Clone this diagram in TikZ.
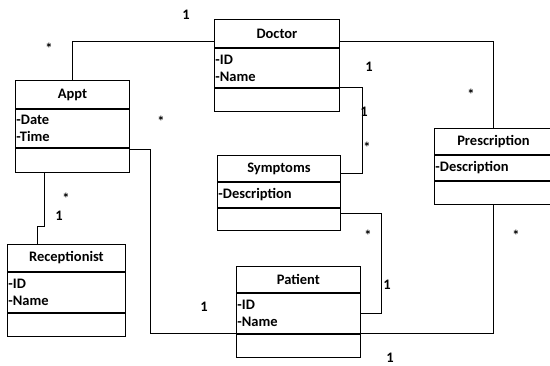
\documentclass[tikz,border=0pt]{standalone}
\usepackage{fontspec}
\setmainfont{Carlito}
\newcommand\umlbox[9]{%
  \node[sec, minimum width=#4pt, minimum height=#5pt] (#1H) at (#2,#3) {#8};
  \node[sec, minimum width=#4pt, minimum height=#6pt, text width=#4pt-2pt, align=left, inner xsep=1pt] (#1A) at (#1H.south west) {#9};
  \node[sec, minimum width=#4pt, minimum height=#7pt] (#1M) at (#1A.south west) {};
}
\begin{document}
\begin{tikzpicture}[x=1pt,y=-1pt,
  font=\bfseries\fontsize{14.5}{17}\selectfont,
  sec/.style={draw, line width=0.9pt, rectangle, inner sep=0pt, anchor=north west},
  conn/.style={draw, line width=0.9pt},
  lbl/.style={inner sep=0pt, anchor=center}]
\useasboundingbox (0,0) rectangle (550,365);
\fill[white] (0,0) rectangle (550,365);
% classes
\umlbox{doc}{214}{19}{125}{28}{39}{23}{Doctor}{-ID\\-Name}
\umlbox{appt}{15}{80}{114}{28}{38}{24}{Appt}{-Date\\-Time}
\umlbox{sym}{217}{155}{123}{26}{25}{22}{Symptoms}{-Description}
\umlbox{pres}{434}{128}{118}{26}{25}{23}{Prescription}{-Description}
\umlbox{rec}{7}{244}{118}{27}{40}{23}{Receptionist}{-ID\\-Name}
\umlbox{pat}{236}{266}{124}{26}{40}{23}{Patient}{-ID\\-Name}
% connectors
\draw[conn] ([yshift=6pt]docH.south west) -| (apptH.north);
\draw[conn] ([yshift=6pt]docH.south east) -| (presH.north);
\draw[conn] (docA.south east) -| ([xshift=22pt,yshift=-5pt]symH.east) -- ([yshift=-5pt]symH.east);
\draw[conn] ([yshift=6pt]symM.east) -| ([xshift=21pt]patA.east) -- (patA.east);
\draw[conn] ([yshift=-2pt]apptA.south east) -| ([xshift=-86pt]patA.south west) -- (patA.south west);
\draw[conn] (presM.south) |- (patA.south east);
\draw[conn] ([xshift=-28pt]apptM.south) -- ++(0,54) -| ([xshift=-29pt]recH.north);
% multiplicities
\node[lbl] (m1) at (186,15) {1};
\node[lbl] (m2) at (369,67) {1};
\node[lbl] (m3) at (364,112) {1};
\node[lbl] (m4) at (59,216) {1};
\node[lbl] (m5) at (204,307) {1};
\node[lbl] (m6) at (387,285) {1};
\node[lbl] (m7) at (390,357.5) {1};
\node[lbl] (s1) at (49,48) {*};
\node[lbl] (s2) at (161,121) {*};
\node[lbl] (s3) at (471,94) {*};
\node[lbl] (s4) at (367,147) {*};
\node[lbl] (s5) at (66,198) {*};
\node[lbl] (s6) at (368,235) {*};
\node[lbl] (s7) at (516,235) {*};
\end{tikzpicture}
\end{document}
